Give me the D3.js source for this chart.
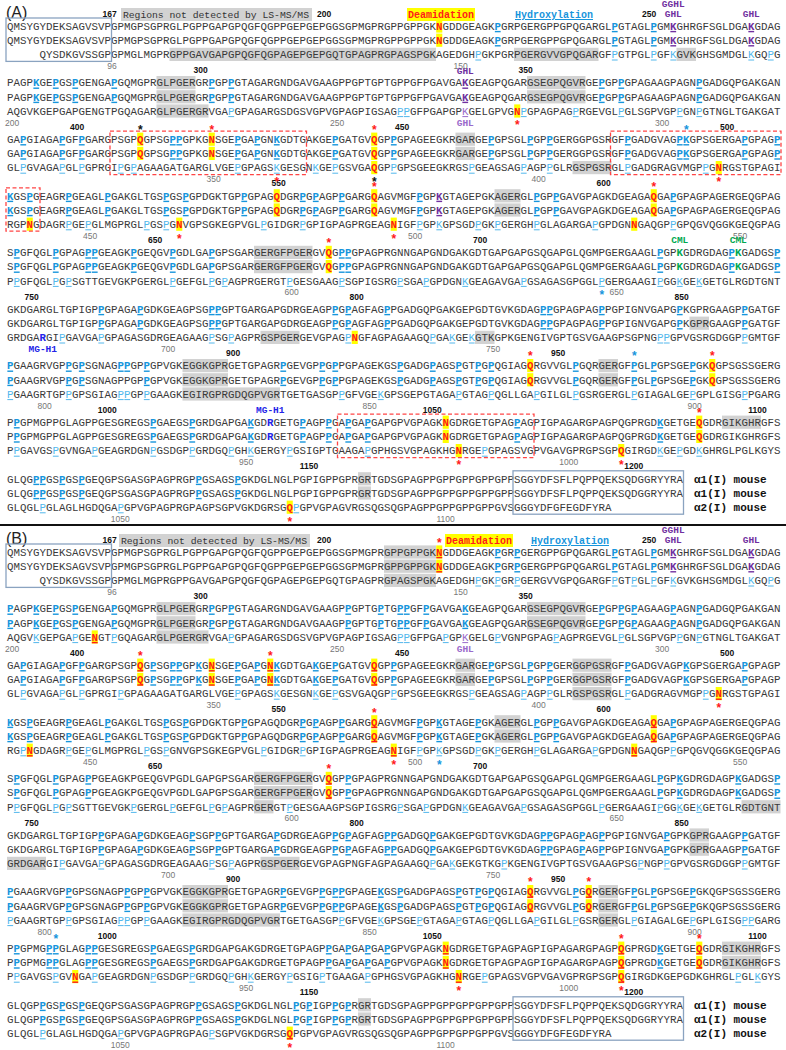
<!DOCTYPE html>
<html>
<head>
<meta charset="utf-8">
<script src="https://cdn.jsdelivr.net/npm/d3@7/dist/d3.min.js"></script>
<style>
  body { margin: 0; background: #fff; }
  text { font-family: 'Liberation Mono', 'DejaVu Sans Mono', monospace; }
</style>
</head>
<body>
<svg id="chart" width="786" height="1050"></svg>
<script>
// one string per alignment block (119 columns each)
var alpha1Seq = [
  'QMSYGYDEKSAGVSVPGPMGPSGPRGLPGPPGAPGPQGFQGPPGEPGEPGGSGPMGPRGPPGPPGKNGDDGEAGKPGRPGERGPPGPQGARGLPGTAGLPGMKGHRGFSGLDGAKGDAG',
  'PAGPKGEPGSPGENGAPGQMGPRGLPGERGRPGPPGTAGARGNDGAVGAAGPPGPTGPTGPPGFPGAVGAKGEAGPQGARGSEGPQGVRGEPGPPGPAGAAGPAGNPGADGQPGAKGAN',
  'GAPGIAGAPGFPGARGPSGPQGPSGPPGPKGNSGEPGAPGNKGDTGAKGEPGATGVQGPPGPAGEEGKRGARGEPGPSGLPGPPGERGGPGSRGFPGADGVAGPKGPSGERGAPGPAGP',
  'KGSPGEAGRPGEAGLPGAKGLTGSPGSPGPDGKTGPPGPAGQDGRPGPAGPPGARGQAGVMGFPGPKGTAGEPGKAGERGLPGPPGAVGPAGKDGEAGAQGAPGPAGPAGERGEQGPAG',
  'SPGFQGLPGPAGPPGEAGKPGEQGVPGDLGAPGPSGARGERGFPGERGVQGPPGPAGPRGNNGAPGNDGAKGDTGAPGAPGSQGAPGLQGMPGERGAAGLPGPKGDRGDAGPKGADGSP',
  'GKDGARGLTGPIGPPGPAGAPGDKGEAGPSGPPGPTGARGAPGDRGEAGPPGPAGFAGPPGADGQPGAKGEPGDTGVKGDAGPPGPAGPAGPPGPIGNVGAPGPKGPRGAAGPPGATGF',
  'PGAAGRVGPPGPSGNAGPPGPPGPVGKEGGKGPRGETGPAGRPGEVGPPGPPGPAGEKGSPGADGPAGSPGTPGPQGIAGQRGVVGLPGQRGERGFPGLPGPSGEPGKQGPSGSSGERG',
  'PPGPMGPPGLAGPPGESGREGSPGAEGSPGRDGAPGAKGDRGETGPAGPPGAPGAPGAPGPVGPAGKNGDRGETGPAGPAGPIGPAGARGPAGPQGPRGDKGETGEQGDRGIKGHRGFS',
  'GLQGPPGSPGSPGEQGPSGASGPAGPRGPPGSAGSPGKDGLNGLPGPIGPPGPRGRTGDSGPAGPPGPPGPPGPPGPPSGGYDFSFLPQPPQEKSQDGGRYYRA'
];
var alpha2Seq = [
  '     QYSDKGVSSGPGPMGLMGPRGPPGAVGAPGPQGFQGPAGEPGEPGQTGPAGPRGPAGSPGKAGEDGHPGKPGRPGERGVVGPQGARGFPGTPGLPGFKGVKGHSGMDGLKGQPG',
  'AQGVKGEPGAPGENGTPGQAGARGLPGERGRVGAPGPAGARGSDGSVGPVGPAGPIGSAGPPGFPGAPGPKGELGPVGNPGPAGPAGPRGEVGLPGLSGPVGPPGNPGTNGLTGAKGAT',
  'GLPGVAGAPGLPGPRGIPGPAGAAGATGARGLVGEPGPAGSKGESGNKGEPGSVGAQGPPGPSGEEGKRGSPGEAGSAGPAGPPGLRGSPGSRGLPGADGRAGVMGPPGNRGSTGPAGI',
  'RGPNGDAGRPGEPGLMGPRGLPGSPGNVGPSGKEGPVGLPGIDGRPGPIGPAGPRGEAGNIGFPGPKGPSGDPGKPGERGHPGLAGARGAPGPDGNNGAQGPPGPQGVQGGKGEQGPAG',
  'PPGFQGLPGPSGTTGEVGKPGERGLPGEFGLPGPAGPRGERGTPGESGAAGPSGPIGSRGPSGAPGPDGNKGEAGAVGAPGSAGASGPGGLPGERGAAGIPGGKGEKGETGLRGDTGNT',
  'GRDGARGIPGAVGAPGPAGASGDRGEAGAAGPSGPAGPRGSPGERGEVGPAGPNGFAGPAGAAGQPGAKGEKGTKGPKGENGIVGPTGSVGAAGPSGPNGPPGPVGSRGDGGPPGMTGF',
  'PGAAGRTGPPGPSGIAGPPGPPGAAGKEGIRGPRGDQGPVGRTGETGASGPPGFVGEKGPSGEPGTAGAPGTAGPQGLLGAPGILGLPGSRGERGLPGIAGALGEPGPLGISGPPGARG',
  'PPGAVGSPGVNGAPGEAGRDGNPGSDGPPGRDGQPGHKGERGYPGSIGPTGAAGAPGPHGSVGPAGKHGNRGEPGPAGSVGPVGAVGPRGPSGPQGIRGDKGEPGDKGHRGLPGLKGYS',
  'GLQGLPGLAGLHGDQGAPGPVGPAGPRGPAGPSGPVGKDGRSGQPGPVGPAGVRGSQGSQGPAGPPGPPGPPGPPGVSGGGYDFGFEGDFYRA'
];
// residue number of column 0 in each block
var alpha1Start = [151, 270, 389, 508, 627, 746, 865, 984, 1103];
var alpha2Start = [80, 199, 318, 437, 556, 675, 794, 913, 1032];
var alpha1Ticks = [167, 200, 250, 300, 350, 400, 450, 500, 550, 600, 650, 700, 750, 800, 850, 900, 950, 1000, 1050, 1100, 1150, 1200];
var alpha2Ticks = [96, 150, 200, 250, 300, 350, 400, 450, 500, 550, 600, 650, 700, 750, 800, 850, 900, 950, 1000, 1050, 1100];
var chainNames = ['\u03b11(I) mouse', '\u03b11(I) mouse', '\u03b12(I) mouse'];

// [block, rows, type, columns]  rows 0,1 = alpha1, 2 = alpha2
var marksA = [
  [0, [0, 1], 'd', [66]], [0, [0, 1], 'b', [75, 93, 99]], [0, [0, 1], 'p', [102, 114]],
  [0, [2], 'l', [72, 93, 99, 102, 114, 117]],
  [1, [0, 1], 'b', [4, 7, 10, 16, 31, 34, 91, 94, 106]], [1, [0, 1], 'p', [70]],
  [1, [2], 'l', [34, 60, 61, 79, 87, 94, 103, 106]], [1, [2], 'q', [70]], [1, [2], 'd', [78]],
  [2, [0, 1], 'b', [2, 8, 11, 25, 26, 35, 38, 41, 50, 59, 74, 80, 83, 95, 103, 104, 113, 118]],
  [2, [0, 1], 'd', [20, 31, 56]],
  [2, [2], 'l', [2, 8, 11, 17, 19, 35, 41, 47, 50, 59, 71, 79, 83, 95, 107]], [2, [2], 'd', [56, 109]],
  [3, [0, 1], 'b', [0, 3, 9, 15, 24, 27, 36, 45, 47, 51, 63, 81, 84, 102]], [3, [0, 1], 'd', [41, 56, 99]],
  [3, [0, 1], 'p', [66]],
  [3, [2], 'l', [9, 12, 21, 24, 39, 45, 63, 66, 72, 75, 81, 90, 102]], [3, [2], 'd', [3, 26, 59, 96]],
  [4, [0, 1], 'b', [1, 7, 12, 13, 19, 25, 31, 51, 52, 100, 111, 118]], [4, [0, 1], 'd', [49]],
  [4, [0, 1], 'g', [103, 112]],
  [4, [2], 'l', [1, 7, 9, 25, 31, 33, 43, 51, 60, 64, 70, 79, 91, 100, 103, 106]],
  [5, [0, 1], 'b', [14, 20, 31, 32, 50, 52, 58, 82, 83, 91, 103, 113]],
  [5, [2], 'l', [8, 14, 31, 34, 52, 65, 68, 71, 100, 101, 113]], [5, [2], 'r', [5]], [5, [2], 'd', [53]],
  [6, [0], 'b', [17, 18]],
  [6, [0, 1], 'b', [0, 9, 11, 21, 42, 48, 50, 60, 65, 69, 72, 74, 87, 96, 99, 105]], [6, [0, 1], 'd', [80, 108]],
  [6, [2], 'l', [0, 9, 17, 18, 21, 51, 57, 69, 74, 81, 87, 96, 105, 113]],
  [7, [0, 1], 'b', [1, 22, 28, 37, 45, 49, 52, 55, 78, 100]], [7, [0, 1], 'r', [40]], [7, [0, 1], 'd', [67, 106]],
  [7, [2], 'l', [1, 7, 13, 22, 28, 34, 37, 43, 55, 73, 100, 103, 106]], [7, [2], 'd', [69, 94]],
  [8, [0, 1], 'b', [4, 5, 8, 11, 29, 35]], [8, [2], 'l', [5, 17, 44]], [8, [2], 'd', [43]]
];
var marksB = [
  [0, [0, 1], 'd', [66]], [0, [0, 1], 'b', [75, 78, 93, 99]], [0, [0, 1], 'p', [102, 114]],
  [0, [2], 'l', [72, 75, 78, 93, 96, 99, 102, 114, 117]],
  [1, [0, 1], 'b', [0, 4, 7, 10, 16, 31, 34, 52, 57, 60, 61, 64, 70, 91, 94, 96, 102, 106]],
  [1, [2], 'l', [4, 10, 16, 34, 60, 61, 67, 75, 84, 94, 103, 106]], [1, [2], 'q', [70]], [1, [2], 'd', [13]],
  [2, [0, 1], 'b', [2, 8, 11, 22, 25, 26, 29, 35, 38, 41, 47, 50, 59, 74, 80, 83, 95, 104, 113]],
  [2, [0, 1], 'd', [20, 31, 40, 56]],
  [2, [2], 'l', [2, 8, 11, 17, 35, 41, 47, 50, 59, 71, 79, 83, 95, 107]], [2, [2], 'd', [109]],
  [3, [0, 1], 'b', [0, 3, 9, 15, 24, 27, 36, 45, 47, 51, 63, 66, 72, 81, 84, 102]], [3, [0, 1], 'd', [56, 99]],
  [3, [2], 'l', [2, 9, 12, 21, 24, 39, 45, 63, 66, 72, 75, 81, 90, 102]], [3, [2], 'd', [3, 59, 96]],
  [4, [0, 1], 'b', [1, 7, 12, 52, 100, 103, 112, 118]], [4, [0, 1], 'd', [49]],
  [4, [2], 'l', [1, 7, 9, 19, 25, 31, 33, 43, 60, 64, 70, 79, 91, 100, 103, 106]],
  [5, [0, 1], 'b', [14, 20, 28, 32, 41, 50, 52, 58, 59, 65, 82, 83, 88, 91, 101, 113]],
  [5, [2], 'l', [8, 14, 31, 34, 65, 68, 76, 97, 101, 113]],
  [6, [0, 1], 'b', [0, 9, 18, 21, 42, 48, 50, 51, 57, 60, 69, 72, 74, 87, 96, 99, 105]], [6, [0, 1], 'd', [80, 89]],
  [6, [2], 'l', [0, 9, 17, 18, 21, 51, 57, 63, 69, 74, 81, 87, 96, 105, 113, 114]],
  [7, [0, 1], 'b', [1, 6, 7, 12, 13, 22, 28, 49, 52, 55, 58, 100]], [7, [0, 1], 'd', [67, 94, 106]],
  [7, [2], 'l', [1, 7, 13, 22, 28, 34, 37, 43, 48, 55, 73, 112, 115]], [7, [2], 'd', [10, 69, 94]],
  [8, [0, 1], 'b', [5, 8, 11, 29, 35, 44, 46, 50, 52]], [8, [2], 'l', [5, 17, 31]], [8, [2], 'd', [43]]
];

// regions not detected: [block, rows, first column, last column]
var grayA = [
  [0, [2], 25, 65], [0, [2], 78, 90], [0, [2], 103, 105],
  [1, [0, 1], 23, 28], [1, [0, 1], 80, 88], [1, [2], 23, 30],
  [2, [0, 1], 69, 71], [2, [2], 87, 92], [3, [0, 1], 75, 78], [4, [0, 1], 38, 46],
  [5, [1], 105, 107], [5, [2], 39, 44], [5, [2], 72, 74],
  [6, [0, 1], 27, 33], [6, [0, 1], 91, 93], [6, [2], 27, 41],
  [7, [0], 110, 115], [8, [0, 1], 54, 55]
];
var grayB = [
  [0, [0, 1, 2], 58, 65],
  [1, [0, 1], 23, 28], [1, [0, 1], 80, 88], [1, [2], 23, 30],
  [2, [0, 1], 69, 71], [2, [0, 1, 2], 87, 92], [3, [0, 1], 75, 78],
  [4, [0, 1], 38, 46], [4, [2], 38, 40], [4, [2], 113, 118],
  [5, [0, 1], 105, 107], [5, [2], 0, 5], [5, [2], 39, 44],
  [6, [0, 1], 27, 33], [6, [0, 1, 2], 91, 93], [6, [2], 27, 41],
  [7, [0, 1], 110, 115], [8, [0, 1], 54, 55]
];

// asterisks: [block, side, column, colour]
var starsA = [
  [1, 'below', 78, 'red'],
  [2, 'above', 20, 'black'], [2, 'above', 31, 'red'], [2, 'above', 56, 'red'], [2, 'above', 104, 'blue'],
  [2, 'below', 41, 'red'], [2, 'below', 56, 'black'], [2, 'below', 109, 'red'],
  [3, 'above', 56, 'red'], [3, 'above', 99, 'red'], [3, 'below', 26, 'red'], [3, 'below', 59, 'red'],
  [4, 'above', 49, 'red'], [4, 'below', 91, 'blue'],
  [6, 'above', 80, 'red'], [6, 'above', 96, 'blue'], [6, 'above', 108, 'red'],
  [7, 'above', 106, 'red'], [7, 'below', 69, 'red'], [7, 'below', 94, 'red'],
  [8, 'below', 43, 'red']
];
var starsB = [
  [0, 'above', 66, 'red'],
  [2, 'above', 20, 'red'], [2, 'above', 40, 'red'], [2, 'below', 109, 'red'],
  [3, 'above', 56, 'red'], [3, 'below', 59, 'red'], [3, 'below', 66, 'blue'],
  [4, 'above', 49, 'red'],
  [6, 'above', 80, 'red'], [6, 'above', 89, 'red'],
  [7, 'above', 7, 'blue'], [7, 'above', 94, 'red'], [7, 'above', 106, 'red'],
  [7, 'below', 69, 'red'], [7, 'below', 94, 'red'],
  [8, 'below', 43, 'red']
];

// modification labels: [block, place, column, text, kind]
var ptmA = [
  [0, 'top2', 102, 'GGHL', 'ghl'], [0, 'top', 102, 'GHL', 'ghl'], [0, 'top', 114, 'GHL', 'ghl'],
  [1, 'top', 70, 'GHL', 'ghl'], [1, 'bottom', 70, 'GHL', 'ghl2'],
  [4, 'top', 103, 'CML', 'cml'], [4, 'top', 112, 'CML', 'cml'],
  [5, 'bottom', 5, 'MG-H1', 'mgh'], [7, 'top', 40, 'MG-H1', 'mgh']
];
var ptmB = [
  [0, 'top2', 102, 'GGHL', 'ghl'], [0, 'top', 102, 'GHL', 'ghl'], [0, 'top', 114, 'GHL', 'ghl'],
  [1, 'bottom', 70, 'GHL', 'ghl2']
];

// dashed boxes [block, first col, last col] and telopeptide boxes
var dashedA = [[2, 16, 45], [2, 93, 118], [3, 0, 4], [7, 51, 80]];
var teloBoxes = [[0, 0, 15], [8, 78, 103]];

var colors = {
  text: '#3a3a3a', blue: '#1795dc', light: '#52b7ec', red: '#ff1a1a',
  purple: '#7030a0', purple2: '#9a6acb', green: '#00a84f', mgh: '#2424e8',
  gray: '#d2d2d2', yellow: '#ffff00', box: '#8aa3c0'
};
var markStyle = {
  b: { fill: colors.blue, weight: 'bold', line: true },
  l: { fill: colors.light, weight: 'normal', line: true },
  d: { fill: colors.red, weight: 'bold', line: false },
  p: { fill: colors.purple, weight: 'bold', line: true },
  q: { fill: colors.purple2, weight: 'normal', line: true },
  g: { fill: colors.green, weight: 'bold', line: false },
  r: { fill: colors.mgh, weight: 'bold', line: false }
};
var starColor = { red: colors.red, black: '#111', blue: colors.blue };
var ptmColor = { ghl: colors.purple, ghl2: colors.purple2, cml: colors.green, mgh: colors.mgh };

var panels = [
  { name: '(A)', top: 26, marks: marksA, gray: grayA, stars: starsA, ptm: ptmA, dashed: dashedA,
    deamLine: false, legend: { regions: 123, deam: 408, hydro: 515 } },
  { name: '(B)', top: 552, marks: marksB, gray: grayB, stars: starsB, ptm: ptmB, dashed: [],
    deamLine: true, legend: { regions: 121, deam: 446, hydro: 531 } }
];

var svg = d3.select('#chart');
var xCol = d3.scaleLinear().domain([0, 119]).range([7, 780.5]);
var cellW = xCol(1) - xCol(0);
var rowGap = 14.2;

function cx(c) {
  return xCol(c + 0.5);
}

function findBlock(n, starts) {
  for (var b = 0; b < starts.length; b++) {
    if (n >= starts[b] && n <= starts[b] + 118) return { b: b, c: n - starts[b] };
  }
  return null;
}

var residues = [];
alpha1Seq.forEach(function(seq, b) {
  [0, 1].forEach(function(r) {
    seq.split('').forEach(function(ch, c) {
      residues.push({ b: b, r: r, c: c, ch: ch });
    });
  });
});
alpha2Seq.forEach(function(seq, b) {
  seq.split('').forEach(function(ch, c) {
    if (ch !== ' ') residues.push({ b: b, r: 2, c: c, ch: ch });
  });
});

svg.append('line')
  .attr('x1', 0).attr('x2', 786)
  .attr('y1', 525).attr('y2', 525)
  .attr('stroke', '#111')
  .attr('stroke-width', 2);

panels.forEach(function(p) {
  var g = svg.append('g');
  var blockY = d3.scaleLinear().domain([0, 8]).range([p.top, p.top + 8 * 56.6]);
  var rowY = function(b, r) { return blockY(b) + r * rowGap; };

  var lookup = {};
  p.marks.forEach(function(m) {
    m[1].forEach(function(r) {
      m[3].forEach(function(c) {
        lookup[m[0] + '-' + r + '-' + c] = m[2];
      });
    });
  });

  g.append('text')
    .text(p.name)
    .attr('x', 6)
    .attr('y', p.top - 8)
    .style('font-family', 'Liberation Sans, Arial, sans-serif')
    .style('font-size', '16px')
    .attr('fill', '#222');

  // legend row
  var ly = blockY(0) - 11.5;
  g.append('rect')
    .attr('x', p.legend.regions - 2).attr('y', ly - 6.5)
    .attr('width', 191).attr('height', 13)
    .attr('fill', colors.gray);
  g.append('text')
    .text('Regions not detected by LS-MS/MS')
    .attr('x', p.legend.regions).attr('y', ly + 3.4)
    .attr('textLength', 186)
    .style('font-size', '9.75px')
    .attr('fill', '#333');
  g.append('rect')
    .attr('x', p.legend.deam - 1).attr('y', ly - 6.5)
    .attr('width', 68).attr('height', 13)
    .attr('fill', colors.yellow);
  g.append('text')
    .text('Deamidation')
    .attr('x', p.legend.deam).attr('y', ly + 3.5)
    .style('font-size', '10px')
    .style('font-weight', 'bold')
    .attr('fill', colors.red);
  g.append('text')
    .text('Hydroxylation')
    .attr('x', p.legend.hydro).attr('y', ly + 3.5)
    .style('font-size', '10px')
    .style('font-weight', 'bold')
    .style('text-decoration', 'underline')
    .attr('fill', colors.blue);

  // gray regions
  p.gray.forEach(function(d) {
    d[1].forEach(function(r) {
      g.append('rect')
        .attr('x', xCol(d[2]))
        .attr('y', rowY(d[0], r) - 6.6)
        .attr('width', xCol(d[3] + 1) - xCol(d[2]))
        .attr('height', 13.2)
        .attr('fill', colors.gray);
    });
  });

  var data = residues.map(function(d) {
    return { b: d.b, r: d.r, c: d.c, ch: d.ch, type: lookup[d.b + '-' + d.r + '-' + d.c] };
  });

  g.selectAll('rect.deam')
    .data(data.filter(function(d) { return d.type === 'd'; }))
    .enter()
    .append('rect')
    .attr('class', 'deam')
    .attr('x', function(d) { return xCol(d.c) + 0.2; })
    .attr('y', function(d) { return rowY(d.b, d.r) - 6.6; })
    .attr('width', cellW - 0.4)
    .attr('height', 13.2)
    .attr('fill', colors.yellow);

  g.selectAll('text.res')
    .data(data)
    .enter()
    .append('text')
    .attr('class', 'res')
    .text(function(d) { return d.ch; })
    .attr('x', function(d) { return cx(d.c); })
    .attr('y', function(d) { return rowY(d.b, d.r) + 3.8; })
    .attr('text-anchor', 'middle')
    .style('font-size', '10.8px')
    .style('font-weight', function(d) { return d.type ? markStyle[d.type].weight : 'normal'; })
    .attr('fill', function(d) { return d.type ? markStyle[d.type].fill : colors.text; });

  g.selectAll('line.ul')
    .data(data.filter(function(d) {
      return d.type && (markStyle[d.type].line || (d.type === 'd' && p.deamLine));
    }))
    .enter()
    .append('line')
    .attr('class', 'ul')
    .attr('x1', function(d) { return cx(d.c) - 2.9; })
    .attr('x2', function(d) { return cx(d.c) + 2.9; })
    .attr('y1', function(d) { return rowY(d.b, d.r) + 5.6; })
    .attr('y2', function(d) { return rowY(d.b, d.r) + 5.6; })
    .attr('stroke', function(d) { return markStyle[d.type].fill; })
    .attr('stroke-width', function(d) { return markStyle[d.type].weight === 'bold' ? 1.4 : 1; });

  // telopeptide boxes
  teloBoxes.forEach(function(d) {
    g.append('rect')
      .attr('x', xCol(d[1]) - 1)
      .attr('y', rowY(d[0], 0) - 8)
      .attr('width', xCol(d[2] + 1) - xCol(d[1]) + 1.5)
      .attr('height', rowY(d[0], 2) - rowY(d[0], 0) + 15)
      .attr('fill', 'none')
      .attr('stroke', colors.box)
      .attr('stroke-width', 1.3);
  });

  p.dashed.forEach(function(d) {
    g.append('rect')
      .attr('x', xCol(d[1]) - 1)
      .attr('y', rowY(d[0], 0) - 8)
      .attr('width', xCol(d[2] + 1) - xCol(d[1]) + 1.5)
      .attr('height', rowY(d[0], 2) - rowY(d[0], 0) + 15)
      .attr('fill', 'none')
      .attr('stroke', '#ff4545')
      .attr('stroke-width', 1.3)
      .attr('stroke-dasharray', '4,2.5');
  });

  // residue numbers
  alpha1Ticks.forEach(function(n) {
    var pos = findBlock(n, alpha1Start);
    g.append('text')
      .text(n)
      .attr('x', cx(pos.c) + 2.5)
      .attr('y', rowY(pos.b, 0) - 9.5)
      .attr('text-anchor', 'end')
      .style('font-family', 'Liberation Sans, Arial, sans-serif')
      .style('font-size', '8.5px')
      .style('font-weight', 'bold')
      .attr('fill', '#111');
  });
  alpha2Ticks.forEach(function(n) {
    var pos = findBlock(n, alpha2Start);
    g.append('text')
      .text(n)
      .attr('x', cx(pos.c) + 2.5)
      .attr('y', rowY(pos.b, 2) + 14.5)
      .attr('text-anchor', 'end')
      .style('font-family', 'Liberation Sans, Arial, sans-serif')
      .style('font-size', '8.5px')
      .attr('fill', '#777');
  });

  p.ptm.forEach(function(d) {
    var y = d[1] === 'top' ? rowY(d[0], 0) - 9 : d[1] === 'top2' ? rowY(d[0], 0) - 19 : rowY(d[0], 2) + 15;
    g.append('text')
      .text(d[3])
      .attr('x', cx(d[2]))
      .attr('y', y)
      .attr('text-anchor', 'middle')
      .style('font-size', '9.5px')
      .style('font-weight', 'bold')
      .attr('fill', ptmColor[d[4]]);
  });

  p.stars.forEach(function(d) {
    var y = d[1] === 'above' ? rowY(d[0], 0) - 5.3 : rowY(d[0], 2) + 18.3;
    g.append('text')
      .text('*')
      .attr('x', cx(d[2]))
      .attr('y', y)
      .attr('text-anchor', 'middle')
      .style('font-family', 'Liberation Sans, Arial, sans-serif')
      .style('font-size', '12px')
      .style('font-weight', 'bold')
      .attr('fill', starColor[d[3]]);
  });

  chainNames.forEach(function(name, r) {
    g.append('text')
      .text(name)
      .attr('x', 694)
      .attr('y', rowY(8, r) + 3.8)
      .style('font-size', '11px')
      .style('font-weight', 'bold')
      .attr('fill', '#111');
  });
});
</script>
</body>
</html>
